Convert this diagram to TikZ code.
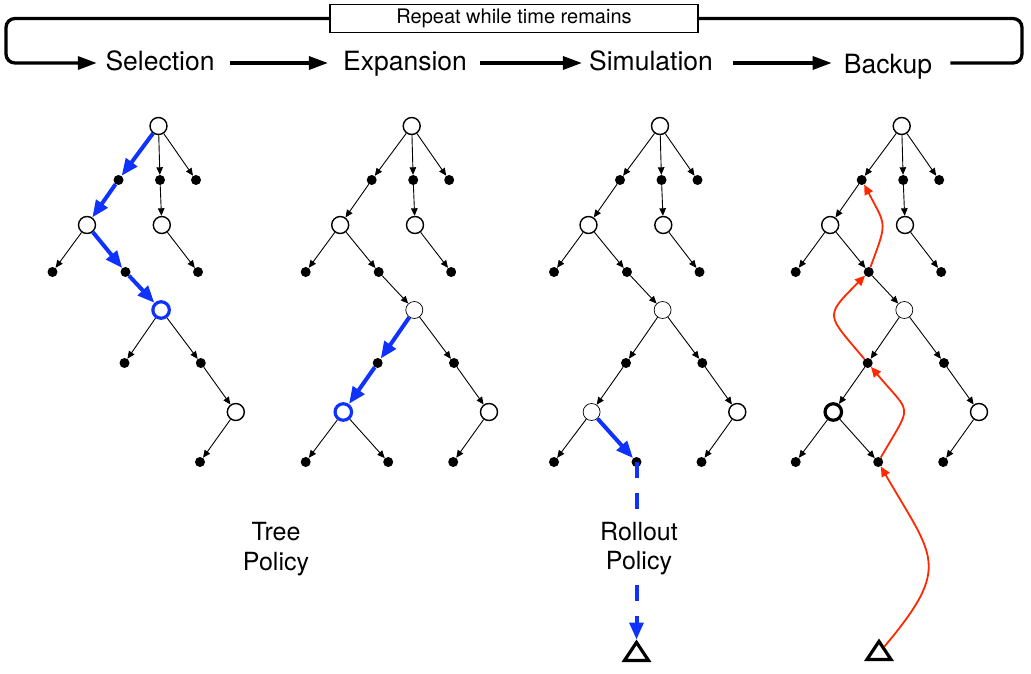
\documentclass[tikz,border=0pt]{standalone}
\usepackage{fontspec}
\setmainfont{TeX Gyre Heros}
\usetikzlibrary{arrows.meta,shapes.geometric}
\definecolor{mblue}{RGB}{15,50,255}
\definecolor{mred}{RGB}{255,40,0}
\newcommand\basetree[3]{%
  \node[cn] (#1r) at (#2,-126) {};
  \node[dn] (#1d1) at ({#2-40},-180) {};
  \node[dn] (#1d2) at ({#2+1.5},-180) {};
  \node[dn] (#1d3) at ({#2+37.5},-180) {};
  \node[cn] (#1c1) at ({#2-71.5},-225) {};
  \node[cn] (#1c2) at ({#2+3.3},-225) {};
  \node[dn] (#1d4) at ({#2-106},-272) {};
  \node[dn] (#1d5) at ({#2-33},-272) {};
  \node[dn] (#1d6) at ({#2+39.5},-272) {};
  \node[#3] (#1c3) at ({#2+2.6},-310) {};
  \node[dn] (#1d7) at ({#2-34},-363) {};
  \node[dn] (#1d8) at ({#2+42.3},-363) {};
  \node[cn] (#1c5) at ({#2+77.3},-412) {};
  \node[dn] (#1d11) at ({#2+41.5},-462) {};
}
\newcommand\lowtree[3]{%
  \node[#3] (#1c4) at ({#2-68.4},-412) {};
  \node[dn] (#1d9) at ({#2-106},-462) {};
  \node[dn] (#1d10) at ({#2-23.5},-462) {};
}
\begin{document}
\begin{tikzpicture}[x=1pt,y=1pt,
  cn/.style={circle,draw,line width=1.4pt,minimum size=17pt,inner sep=0pt,fill=white},
  cthin/.style={cn,line width=0.7pt},
  cblue/.style={cn,draw=mblue,line width=3.2pt,minimum size=16.5pt},
  cthick/.style={cn,line width=3.2pt,minimum size=16.5pt},
  dn/.style={circle,fill=black,minimum size=10pt,inner sep=0pt},
  edge/.style={line width=0.9pt,-{Triangle[length=7.5pt,width=6.5pt]}},
  barrow/.style={mblue,line width=4pt,-{Triangle[length=17pt,width=13.5pt]}},
  bdash/.style={barrow,dash pattern=on 16pt off 14.7pt},
  rarrow/.style={mred,line width=1.8pt,-{Triangle[length=10pt,width=9pt]}},
  flow/.style={line width=3.3pt},
  flowarr/.style={flow,-{Triangle[length=19pt,width=13pt]}},
  phase/.style={font=\fontsize{26.5}{30}\selectfont,inner sep=0pt,text height=21pt,text depth=5pt,anchor=base},
  phaselow/.style={phase,text height=27pt},
  pol/.style={font=\fontsize{25}{29.5}\selectfont,align=center,inner sep=3pt},
  tri/.style={isosceles triangle,isosceles triangle apex angle=72,isosceles triangle stretches,
    shape border rotate=90,draw,line width=3.2pt,inner sep=0pt,minimum width=24pt,minimum height=18pt}
]
\useasboundingbox (0,0) rectangle (1031,-674);

% ---- top row ----
\node[draw,line width=1.3pt,minimum width=368pt,minimum height=27.5pt,inner sep=0pt,fill=white,
  font=\fontsize{20}{24}\selectfont] (box) at (514,-18.5) {Repeat while time remains};
\node[phase] (sel) at (160,-71) {Selection};
\node[phase] (exp) at (405,-71) {Expansion};
\node[phase] (sim) at (651,-71) {Simulation};
\node[phaselow] (bak) at (888,-74) {Backup};
\coordinate (lr1) at (1022,-63);
\coordinate (lr2) at (1022,-18.5);
\coordinate (ll1) at (6,-18.5);
\coordinate (ll2) at (6,-63);
\draw[flowarr,shorten <=15.5pt,shorten >=15pt] (sel.east) -- (exp.west);
\draw[flowarr,shorten <=13pt,shorten >=7pt] (exp.east) -- (sim.west);
\draw[flowarr,shorten <=20pt,shorten >=12pt] (sim.east) -- (bak.west);
\draw[flow,rounded corners=9pt,shorten <=18pt] (bak.east) -- (lr1) -- (lr2) -- (box.east);
\draw[flowarr,rounded corners=9pt,shorten >=8.5pt] (box.west) -- (ll1) -- (ll2) -- (sel.west);

% ---- tree 1 : selection ----
\basetree{A}{158.5}{cblue}
\foreach \a/\b in {r/d2,r/d3,d2/c2,c1/d4,c2/d6,c3/d7,c3/d8,d8/c5,c5/d11}
  \draw[edge] (A\a) -- (A\b);
\draw[barrow] (Ar) -- (Ad1);
\draw[barrow] (Ad1) -- (Ac1);
\draw[barrow] (Ac1) -- (Ad5);
\draw[barrow] (Ad5) -- (Ac3);

% ---- tree 2 : expansion ----
\basetree{B}{411.7}{cthin}
\lowtree{B}{411.7}{cblue}
\foreach \a/\b in {r/d1,r/d2,r/d3,d1/c1,d2/c2,c1/d4,c1/d5,c2/d6,d5/c3,c3/d8,d8/c5,c4/d9,c4/d10,c5/d11}
  \draw[edge] (B\a) -- (B\b);
\draw[barrow] (Bc3) -- (Bd7);
\draw[barrow] (Bd7) -- (Bc4);

% ---- tree 3 : simulation ----
\basetree{C}{660}{cthin}
\lowtree{C}{660}{cthin}
\foreach \a/\b in {r/d1,r/d2,r/d3,d1/c1,d2/c2,c1/d4,c1/d5,c2/d6,d5/c3,c3/d7,c3/d8,d7/c4,d8/c5,c4/d9,c5/d11}
  \draw[edge] (C\a) -- (C\b);
\node[tri] (t3) at (636.5,-654) {};
\draw[barrow] (Cc4) -- (Cd10);
\draw[bdash] (Cd10.center) -- (t3);
\node[pol,fill=white] (rp) at (639,-548.5) {Rollout\\Policy};

% ---- tree 4 : backup ----
\basetree{D}{901.7}{cthin}
\lowtree{D}{901.7}{cthick}
\foreach \a/\b in {r/d1,r/d2,r/d3,d1/c1,d2/c2,c1/d4,c1/d5,c2/d6,d5/c3,c3/d7,c3/d8,d7/c4,d8/c5,c4/d9,c4/d10,c5/d11}
  \draw[edge] (D\a) -- (D\b);
\node[tri] (t4) at (879,-653) {};
\draw[rarrow] (t4) to[out=50,in=-60,looseness=1.5] (Dd10);
\draw[rarrow] (Dd10) to[out=60,in=-50,looseness=1.8] (Dd7);
\draw[rarrow] (Dd7) to[out=130,in=-135,looseness=1.8] (Dd5);
\draw[rarrow] (Dd5) to[out=70,in=-62,looseness=1.5] (Dd1);

% ---- labels ----
\node[pol] (tp) at (276,-549) {Tree\\Policy};
\end{tikzpicture}
\end{document}
